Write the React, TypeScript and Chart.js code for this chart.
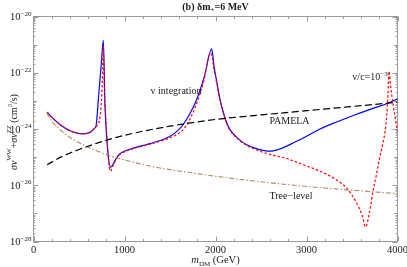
import React, { useEffect, useRef } from "react";
import { Chart, registerables } from "chart.js";

Chart.register(...registerables);

// ---- data (m_DM in GeV, cross-section as log10 of cm^3/s) ----
const massBlue = [150, 200, 291, 400, 547, 620, 676, 687, 720, 745, 767, 786, 822, 848, 877, 914, 950, 1000, 1097, 1200, 1280, 1463, 1560, 1646, 1720, 1793, 1880, 1958, 1985, 2013, 2049, 2090, 2123, 2159, 2250, 2343, 2450, 2525, 2600, 2690, 2782, 2870, 2965, 3148, 3330, 3514, 3700, 3881, 4000];
const logSigmaBlue = [-23.40, -23.58, -23.84, -24.06, -24.17, -24.12, -23.96, -23.90, -22.65, -21.68, -20.84, -23.19, -24.97, -25.36, -25.24, -25.02, -24.88, -24.79, -24.68, -24.59, -24.52, -24.32, -24.13, -23.84, -23.45, -22.95, -22.10, -21.15, -21.80, -22.30, -22.95, -23.45, -23.78, -24.02, -24.35, -24.56, -24.70, -24.76, -24.79, -24.73, -24.61, -24.47, -24.32, -24.00, -23.75, -23.52, -23.30, -23.10, -22.93];

const massRed = [150, 200, 291, 400, 547, 620, 676, 700, 730, 750, 760, 767, 780, 800, 822, 845, 877, 914, 950, 1000, 1097, 1200, 1280, 1463, 1560, 1646, 1694, 1780, 1866, 1950, 1985, 2013, 2049, 2090, 2123, 2159, 2250, 2343, 2450, 2525, 2600, 2700, 2782, 2965, 3148, 3300, 3441, 3551, 3610, 3650, 3690, 3734, 3770, 3808, 3840, 3863, 3881, 3895, 3907, 3925, 3950, 3975, 4000];
const logSigmaRed = [-23.40, -23.58, -23.84, -24.06, -24.17, -24.12, -23.96, -23.86, -23.60, -22.80, -21.90, -21.06, -22.70, -23.90, -25.00, -25.50, -25.28, -25.04, -24.90, -24.81, -24.70, -24.61, -24.54, -24.36, -24.22, -24.02, -23.80, -23.20, -22.36, -21.29, -21.90, -22.35, -22.98, -23.47, -23.80, -24.04, -24.37, -24.58, -24.74, -24.83, -24.90, -24.98, -25.05, -25.27, -25.50, -25.75, -26.10, -26.63, -27.05, -27.48, -27.00, -26.16, -25.60, -24.97, -24.50, -24.10, -23.55, -22.80, -21.95, -22.50, -23.10, -23.60, -24.10];

const massPamela = [150, 300, 500, 800, 1100, 1500, 2000, 2500, 3000, 3500, 4000];
const logSigmaPamela = [-25.27, -25.00, -24.73, -24.40, -24.15, -23.90, -23.66, -23.50, -23.35, -23.20, -23.05];

const massTree = [145, 200, 291, 400, 547, 700, 804, 1000, 1300, 1610, 2000, 2400, 2800, 3200, 3600, 4000];
const logSigmaTree = [-23.43, -23.72, -24.02, -24.30, -24.56, -24.78, -24.91, -25.10, -25.33, -25.50, -25.68, -25.84, -25.98, -26.10, -26.20, -26.30];

const xTickValues = [0, 1000, 2000, 3000, 4000];
const yTickExponents = [-28, -26, -24, -22, -20];

// annotation texts and their anchors (data units)
const annotationTexts = ["v integration", "PAMELA", "Tree\u2212level"];
const annotationMass = [1566, 2813, 2830];
const annotationLog = [-22.63, -23.69, -26.37];

const SERIF = "'Liberation Serif', 'Times New Roman', 'DejaVu Serif', serif";
const FRAME = "#9a9a9a";
const TEXT = "#1a1a1a";

type Part = { t: string; size: number; dy?: number; style?: string };

function drawRich(ctx: CanvasRenderingContext2D, parts: Part[], x: number, y: number, align: "center" | "left" | "right") {
  const fonts = parts.map((p) => `${p.style ?? ""} ${p.size}px ${SERIF}`.trim());
  let total = 0;
  const widths = parts.map((p, i) => {
    ctx.font = fonts[i];
    const w = ctx.measureText(p.t).width;
    total += w;
    return w;
  });
  let cx = align === "center" ? x - total / 2 : align === "right" ? x - total : x;
  ctx.textAlign = "left";
  ctx.textBaseline = "alphabetic";
  parts.forEach((p, i) => {
    ctx.font = fonts[i];
    ctx.fillText(p.t, cx, y + (p.dy ?? 0));
    cx += widths[i];
  });
}

const SUP: Record<string, string> = { "-": "\u2212" };

const framePlugin = {
  id: "frameAndText",
  beforeDatasetsDraw(chart: any) {
    const { ctx, chartArea: a, scales } = chart;
    const x = scales.x;
    const y = scales.y;
    ctx.save();
    ctx.strokeStyle = FRAME;
    ctx.lineWidth = 1;
    ctx.strokeRect(a.left, a.top, a.right - a.left, a.bottom - a.top);
    ctx.beginPath();
    for (let v = 0; v <= 4000; v += 200) {
      const px = Math.round(x.getPixelForValue(v)) + 0.5;
      const len = v % 1000 === 0 ? 5 : 2.5;
      ctx.moveTo(px, a.bottom);
      ctx.lineTo(px, a.bottom - len);
      ctx.moveTo(px, a.top);
      ctx.lineTo(px, a.top + len);
    }
    for (let d = -28; d <= -20; d++) {
      const py = Math.round(y.getPixelForValue(d)) + 0.5;
      const len = d % 2 === 0 ? 5 : 3.5;
      ctx.moveTo(a.left, py);
      ctx.lineTo(a.left + len, py);
      ctx.moveTo(a.right, py);
      ctx.lineTo(a.right - len, py);
      if (d < -20) {
        for (let k = 2; k <= 9; k++) {
          const q = Math.round(y.getPixelForValue(d + Math.log10(k))) + 0.5;
          ctx.moveTo(a.left, q);
          ctx.lineTo(a.left + 1.8, q);
          ctx.moveTo(a.right, q);
          ctx.lineTo(a.right - 1.8, q);
        }
      }
    }
    ctx.stroke();
    ctx.restore();
  },
  afterDraw(chart: any) {
    const { ctx, chartArea: a, scales } = chart;
    const x = scales.x;
    const y = scales.y;
    ctx.save();
    ctx.fillStyle = TEXT;
    // y tick labels 10^n
    y.ticks.forEach((t: any) => {
      const py = y.getPixelForValue(t.value);
      const exp = String(t.value).split("").map((c) => SUP[c] ?? c).join("");
      drawRich(ctx, [{ t: "10", size: 10.5 }, { t: exp, size: 7, dy: -4.5 }], a.left - 2, py + 3.6, "right");
    });
    // title
    drawRich(ctx, [
      { t: "(b) \u03b4m", size: 10, style: "bold" },
      { t: "+", size: 7, dy: 2, style: "bold" },
      { t: "=6 MeV", size: 10, style: "bold" },
    ], (a.left + a.right) / 2, 10, "center");
    // x axis title
    drawRich(ctx, [
      { t: "m", size: 10.5, style: "italic" },
      { t: "DM", size: 7, dy: 2.5 },
      { t: " (GeV)", size: 10.5 },
    ], (a.left + a.right) / 2, 263, "center");
    // y axis title (rotated)
    ctx.save();
    ctx.translate(16.5, (a.top + a.bottom) / 2 + 3);
    ctx.rotate(-Math.PI / 2);
    drawRich(ctx, [
      { t: "\u03c3v", size: 10, style: "italic" },
      { t: "WW", size: 6.5, dy: -5.5 },
      { t: "+", size: 10 },
      { t: "\u03c3v", size: 10, style: "italic" },
      { t: "ZZ", size: 6.5, dy: -5.5 },
      { t: " (cm", size: 10 },
      { t: "3", size: 6.5, dy: -4.5 },
      { t: "/s)", size: 10 },
    ], 0, 0, "center");
    ctx.restore();
    // annotations
    annotationTexts.forEach((txt, i) => {
      const px = x.getPixelForValue(annotationMass[i]);
      const py = y.getPixelForValue(annotationLog[i]);
      drawRich(ctx, [{ t: txt, size: 10 }], px, py + 3.5, "center");
    });
    drawRich(ctx, [
      { t: "v/c=10", size: 10 },
      { t: "\u22123", size: 7, dy: -4 },
    ], x.getPixelForValue(3698), y.getPixelForValue(-22.14) + 3.5, "center");
    ctx.restore();
  },
};

function pts(xs: number[], ys: number[]) {
  return xs.map((m, i) => ({ x: m, y: ys[i] }));
}

export default function App() {
  const ref = useRef<HTMLCanvasElement>(null);
  useEffect(() => {
    const canvas = ref.current;
    if (!canvas) return;
    const common = { pointRadius: 0, fill: false, cubicInterpolationMode: "monotone" as const };
    const chart = new Chart(canvas, {
      type: "line",
      data: {
        datasets: [
          { ...common, label: "v integration", data: pts(massBlue, logSigmaBlue), borderColor: "#0000ff", borderWidth: 1.2, order: 4 },
          { ...common, label: "v/c=10^-3", data: pts(massRed, logSigmaRed), borderColor: "#ff0000", borderWidth: 1.2, borderDash: [2.5, 2], order: 3 },
          { ...common, label: "Tree-level", data: pts(massTree, logSigmaTree), borderColor: "#b08a5e", borderWidth: 1.1, borderDash: [5, 2, 1.5, 2], order: 2 },
          { ...common, label: "PAMELA", data: pts(massPamela, logSigmaPamela), borderColor: "#000000", borderWidth: 1.2, borderDash: [7, 3.5], order: 1 },
        ],
      },
      options: {
        animation: false,
        responsive: false,
        devicePixelRatio: 1,
        layout: { padding: { left: 0, right: 9.5, top: 16.5, bottom: 0 } },
        plugins: { legend: { display: false }, tooltip: { enabled: false }, title: { display: false } },
        scales: {
          x: {
            type: "linear",
            min: 0,
            max: 4000,
            grid: { display: false, drawTicks: false },
            border: { display: false },
            afterBuildTicks: (s: any) => { s.ticks = xTickValues.map((v) => ({ value: v })); },
            ticks: { padding: 2, color: TEXT, font: { family: SERIF, size: 10.5 }, callback: (v: any) => String(v), maxRotation: 0, autoSkip: false },
            afterFit: (s: any) => { s.height = 25.5; s.paddingLeft = 0; s.paddingRight = 0; },
          },
          y: {
            type: "linear",
            min: -28,
            max: -20,
            grid: { display: false, drawTicks: false },
            border: { display: false },
            afterBuildTicks: (s: any) => { s.ticks = yTickExponents.map((v) => ({ value: v })); },
            ticks: { display: false },
            afterFit: (s: any) => { s.width = 33.5; s.paddingTop = 0; s.paddingBottom = 0; },
          },
        },
      },
      plugins: [framePlugin],
    } as any);
    return () => chart.destroy();
  }, []);
  return (
    <div style={{ position: "fixed", left: 0, top: 0, width: 407, height: 267, background: "#fff" }}>
      <canvas ref={ref} width={407} height={267} style={{ display: "block", width: 407, height: 267 }} />
    </div>
  );
}
